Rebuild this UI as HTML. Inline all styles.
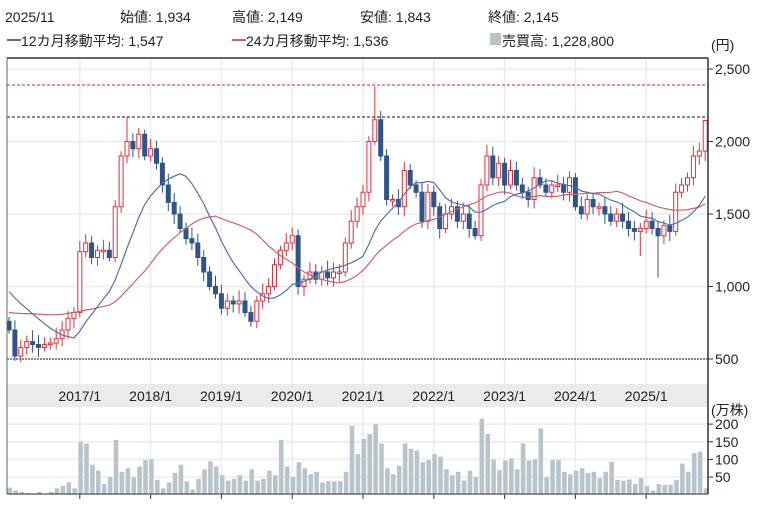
<!DOCTYPE html>
<html><head><meta charset="utf-8"><style>
body{margin:0;background:#fff;width:772px;height:511px;overflow:hidden;font-family:"Liberation Sans","Noto Sans CJK JP",sans-serif;}
svg text{font-family:"Liberation Sans","Noto Sans CJK JP",sans-serif;font-size:14px;fill:#222;}
</style></head><body>
<svg id="s" width="772" height="511" xmlns="http://www.w3.org/2000/svg">
<text x="5" y="22">2025/11</text>
<text x="120" y="22">始値: 1,934</text>
<text x="232" y="22">高値: 2,149</text>
<text x="360" y="22">安値: 1,843</text>
<text x="488" y="22">終値: 2,145</text>
<line x1="7" y1="40" x2="21" y2="40" stroke="#5470b0" stroke-width="2"/>
<text x="21" y="46">12カ月移動平均: 1,547</text>
<line x1="232" y1="40" x2="246" y2="40" stroke="#d06070" stroke-width="2"/>
<text x="246" y="46">24カ月移動平均: 1,536</text>
<rect x="490" y="33" width="11" height="12" fill="#b8c4cc"/>
<text x="502" y="46">売買高: 1,228,800</text>
<text x="711" y="50">(円)</text>
<text x="711" y="415">(万株)</text>
<rect x="7" y="384" width="701" height="23" fill="#ebebeb"/>
<g id="g"></g>
</svg>
<script>
const s=document.getElementById('g');let h='';
const X=i=>9+i*5.9;const Y=p=>359-(p-500)*0.145;
[2500,2000,1500,1000].forEach(p=>h+=`<line x1="7" x2="708" y1="${Y(p)}" y2="${Y(p)}" stroke="#ebebeb" stroke-width="1.5"/>`);
const VY=v=>494.7-v*0.353;
[200,150,100,50].forEach(v=>h+=`<line x1="7" x2="708" y1="${VY(v)}" y2="${VY(v)}" stroke="#ebebeb" stroke-width="1.5"/>`);
const yrs=['2017/1','2018/1','2019/1','2020/1','2021/1','2022/1','2023/1','2024/1','2025/1'];
yrs.forEach((t,k)=>{const x=X(12+12*k);h+=`<line x1="${x}" x2="${x}" y1="58" y2="384" stroke="#ebebeb" stroke-width="1.5"/><line x1="${x}" x2="${x}" y1="407" y2="494" stroke="#ebebeb" stroke-width="1.5"/><line x1="${x}" x2="${x}" y1="494" y2="499" stroke="#333"/><text x="${x}" y="401" text-anchor="middle">${t}</text>`;});
const c=[700,520,580,620,600,580,600,610,640,700,780,820,
1240,1300,1200,1250,1250,1200,1550,1900,2000,1950,2050,1900,
1950,1850,1700,1580,1500,1400,1330,1300,1200,1100,1000,950,
850,900,880,900,820,760,900,950,1000,1150,1250,1300,
1350,1000,1050,1100,1050,1100,1060,1100,1100,1300,1450,1550,
1650,2000,2150,1900,1600,1600,1550,1800,1700,1650,1450,1650,
1550,1400,1500,1550,1450,1500,1400,1350,1700,1900,1750,1850,
1700,1800,1700,1650,1600,1750,1700,1650,1700,1700,1650,1750,
1550,1500,1600,1550,1550,1500,1450,1500,1450,1400,1380,1400,
1450,1400,1350,1420,1380,1650,1700,1750,1900,1934,2145];
const pre=[];for(let k=0;k<12;k++)pre.push(640);for(let k=0;k<12;k++)pre.push(1080-k*15);
const all=pre.concat(c);
function ma(n,col){let p='';c.forEach((v,i)=>{const j=i+24;const a=all.slice(j-n+1,j+1);const m=a.reduce((x,y)=>x+y,0)/a.length;p+=(i?'L':'M')+X(i).toFixed(1)+','+Y(m).toFixed(1);});h+=`<path d="${p}" fill="none" stroke="${col}" stroke-width="1.2"/>`;}
c.forEach((cl,i)=>{const o=i?c[i-1]:760;const up=cl>=o;let hi=Math.max(o,cl)+30+((i*37)%50);let lo=Math.min(o,cl)-25-((i*53)%45);
if(i==62)hi=2380;if(i==20)hi=2170;if(i==118)hi=2149;if(i==107)lo=1210;if(i==110)lo=1060;
const col=up?'#e0303a':'#2f5488';const x=X(i);
h+=`<line x1="${x}" x2="${x}" y1="${Y(hi)}" y2="${Y(lo)}" stroke="${col}" stroke-width="1"/>`;
const t=Y(Math.max(o,cl)),b=Y(Math.min(o,cl));h+=`<rect x="${x-2}" y="${t}" width="4" height="${Math.max(b-t,1.5)}" fill="${up?'#fff':col}" stroke="${col}" stroke-width="1"/>`;});
ma(24,'#d06070');ma(12,'#5470b0');
h+=`<line x1="7" x2="708" y1="85" y2="85" stroke="#d02030" stroke-dasharray="3,2"/><line x1="7" x2="708" y1="117" y2="117" stroke="#111" stroke-dasharray="3,2"/><line x1="7" x2="708" y1="359" y2="359" stroke="#506080" stroke-dasharray="2,1" stroke-width="1.5"/>`;
let v=[15,20,12,8,5,3,8,3,8,18,25,35,18,150,145,85,68,30,50,155,65,75,50,80,98,100,42,18,35,62,85,38,15,45,72,95,80,55,40,45,55,40,72,40,45,68,55,155,80,50,92,75,58,65,35,38,38,38,65,195,115,158,172,200,145,75,58,82,145,130,125,92,98,115,108,72,55,65,40,68,50,215,172,100,70,97,103,72,145,97,100,188,50,98,98,65,58,68,75,62,65,47,65,93,42,40,43,30,47,25,12,30,28,28,42,88,65,118,122,18];
const n=v.length;v.forEach((q,k)=>{const x=706-(n-1-k)*5.9;if(x<6)return;h+=`<rect x="${x-2.3}" y="${VY(q)}" width="4.6" height="${494.7-VY(q)}" fill="#b8c4cc"/>`;});
h+=`<line x1="7" x2="708" y1="58" y2="58" stroke="#333" stroke-width="1.5"/><line x1="7" x2="7" y1="58" y2="494" stroke="#666"/><line x1="708" x2="708" y1="58" y2="494" stroke="#333" stroke-width="1.5"/><line x1="7" x2="708" y1="494" y2="494" stroke="#333"/>`;
[[2500,'2,500'],[2000,'2,000'],[1500,'1,500'],[1000,'1,000'],[500,'500']].forEach(([p,t])=>h+=`<line x1="708" x2="713" y1="${Y(p)}" y2="${Y(p)}" stroke="#333"/><text x="715" y="${Y(p)+5}">${t}</text>`);
[200,150,100,50].forEach(q=>h+=`<line x1="708" x2="713" y1="${VY(q)}" y2="${VY(q)}" stroke="#333"/><text x="715" y="${VY(q)+5}">${q}</text>`);
s.innerHTML=h;
</script>
</body></html>
